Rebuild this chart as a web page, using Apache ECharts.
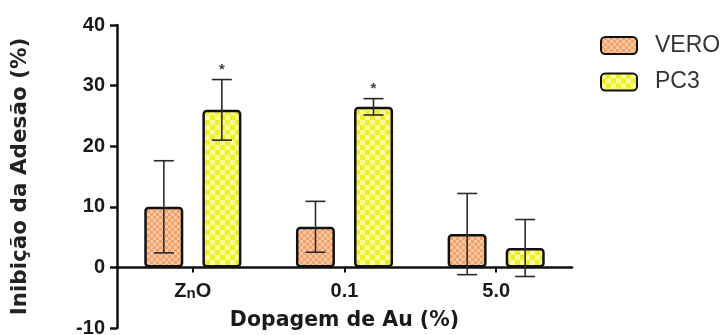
<!DOCTYPE html>
<html>
<head>
<meta charset="utf-8">
<script src="https://cdn.jsdelivr.net/npm/echarts@6/dist/echarts.min.js"></script>
<style>
html,body{margin:0;padding:0;background:#fff;}
#chart{width:721px;height:335px;}
</style>
</head>
<body>
<div id="chart"></div>
<script>
// ---- data ----
var categories = ['ZnO', '0.1', '5.0'];
var seriesNames = ['VERO', 'PC3'];
var veroValues = [10.0, 6.7, 5.5];
var veroErrors = [7.6, 4.2, 6.7];
var pc3Values = [26.0, 26.5, 3.2];
var pc3Errors = [5.0, 1.35, 4.7];
var pc3Significant = [true, true, false];
var yTicks = [-10, 0, 10, 20, 30, 40];

function makePattern(cell, c1, c2) {
  var cv = document.createElement('canvas');
  cv.width = cell * 2; cv.height = cell * 2;
  var ctx = cv.getContext('2d');
  ctx.fillStyle = c1; ctx.fillRect(0, 0, cell * 2, cell * 2);
  ctx.fillStyle = c2;
  ctx.fillRect(0, 0, cell, cell);
  ctx.fillRect(cell, cell, cell, cell);
  return { image: cv, repeat: 'repeat' };
}
var veroFill = makePattern(3, '#f2a06c', '#f9c9a0');
var pc3Fill = makePattern(5, '#eff024', '#f9f99e');

var chart = echarts.init(document.getElementById('chart'));

function errRender(values, errors, offset, stars) {
  return function (params, api) {
    var i = api.value(0);
    var v = values[i], e = errors[i];
    var top = api.coord([i, v + e]);
    var bot = api.coord([i, v - e]);
    var x = top[0] + offset;
    var cap = 10;
    var style = { stroke: '#2b2b2b', lineWidth: 1.6 };
    var children = [
      { type: 'line', shape: { x1: x, y1: top[1], x2: x, y2: bot[1] }, style: style },
      { type: 'line', shape: { x1: x - cap, y1: top[1], x2: x + cap, y2: top[1] }, style: style },
      { type: 'line', shape: { x1: x - cap, y1: bot[1], x2: x + cap, y2: bot[1] }, style: style }
    ];
    if (stars && stars[i]) {
      children.push({
        type: 'text',
        style: { text: '*', x: x, y: top[1] - 2, textAlign: 'center', textVerticalAlign: 'bottom',
                 fontSize: 15, fontWeight: 'bold', fill: '#444', fontFamily: 'Liberation Sans' }
      });
    }
    return { type: 'group', children: children };
  };
}

// grid: 303px tall for 50 units -> zero line sits 60.6px above the bottom edge
var gridTop = 25, gridBottom = 7, chartH = 335;
var zeroOffset = (chartH - gridTop - gridBottom) * (0 - yTicks[0]) / (yTicks[yTicks.length - 1] - yTicks[0]);

var option = {
  backgroundColor: '#fff',
  animation: false,
  grid: { left: 117, right: 149, top: gridTop, bottom: gridBottom, containLabel: false, outerBoundsMode: 'none' },
  legend: {
    data: seriesNames,
    orient: 'vertical',
    left: 600, top: 34, padding: 0,
    itemWidth: 36, itemHeight: 17, itemGap: 13.5,
    icon: 'roundRect',
    textStyle: { fontFamily: 'Liberation Sans', fontSize: 23, color: '#333', padding: [0, 0, 0, 13] }
  },
  xAxis: {
    type: 'category',
    data: categories,
    position: 'bottom',
    offset: -zeroOffset,
    name: 'Dopagem de Au (%)',
    nameLocation: 'middle',
    nameGap: 43,
    nameTextStyle: { fontFamily: 'DejaVu Sans', fontWeight: 'bold', fontSize: 20.5, color: '#1a1a1a' },
    axisLine: { onZero: false, lineStyle: { color: '#111', width: 2.5 } },
    axisTick: { show: true, alignWithLabel: true, length: 5, lineStyle: { color: '#111', width: 2 } },
    axisLabel: {
      interval: 0,
      margin: 14,
      color: '#1a1a1a',
      fontFamily: 'Liberation Sans', fontWeight: 'bold', fontSize: 20,
      formatter: function (v) { return v === 'ZnO' ? '{a|Z}{b|n}{a|O}' : '{a|' + v + '}'; },
      rich: {
        a: { fontFamily: 'Liberation Sans', fontWeight: 'bold', fontSize: 20, color: '#1a1a1a' },
        b: { fontFamily: 'Liberation Sans', fontWeight: 'bold', fontSize: 15, color: '#1a1a1a', verticalAlign: 'bottom' }
      }
    },
    splitLine: { show: false }
  },
  yAxis: {
    type: 'value',
    min: yTicks[0], max: yTicks[yTicks.length - 1], interval: 10,
    name: 'Inibição da Adesão (%)',
    nameLocation: 'middle',
    nameGap: 86,
    nameTextStyle: { fontFamily: 'DejaVu Sans', fontWeight: 'bold', fontSize: 21.5, color: '#222' },
    axisLine: { show: true, lineStyle: { color: '#111', width: 2.5 } },
    axisTick: { show: true, length: 7, lineStyle: { color: '#111', width: 2.5 } },
    axisLabel: { margin: 12, color: '#1a1a1a', fontFamily: 'Liberation Sans', fontWeight: 'bold', fontSize: 20 },
    splitLine: { show: false }
  },
  series: [
    {
      name: 'VERO', type: 'bar', data: veroValues, barWidth: 39, barGap: '49%',
      itemStyle: { color: veroFill, borderColor: '#111', borderWidth: 2.5, borderRadius: 3 }
    },
    {
      name: 'PC3', type: 'bar', data: pc3Values, barWidth: 39, barGap: '49%',
      itemStyle: { color: pc3Fill, borderColor: '#111', borderWidth: 2.5, borderRadius: 3 }
    },
    {
      type: 'custom', name: 'VERO-err', z: 5,
      renderItem: errRender(veroValues, veroErrors, -29, null),
      data: categories.map(function (c, i) { return [i]; }),
      encode: { x: 0 }, silent: true
    },
    {
      type: 'custom', name: 'PC3-err', z: 5,
      renderItem: errRender(pc3Values, pc3Errors, 29, pc3Significant),
      data: categories.map(function (c, i) { return [i]; }),
      encode: { x: 0 }, silent: true
    }
  ]
};
chart.setOption(option);
</script>
</body>
</html>
